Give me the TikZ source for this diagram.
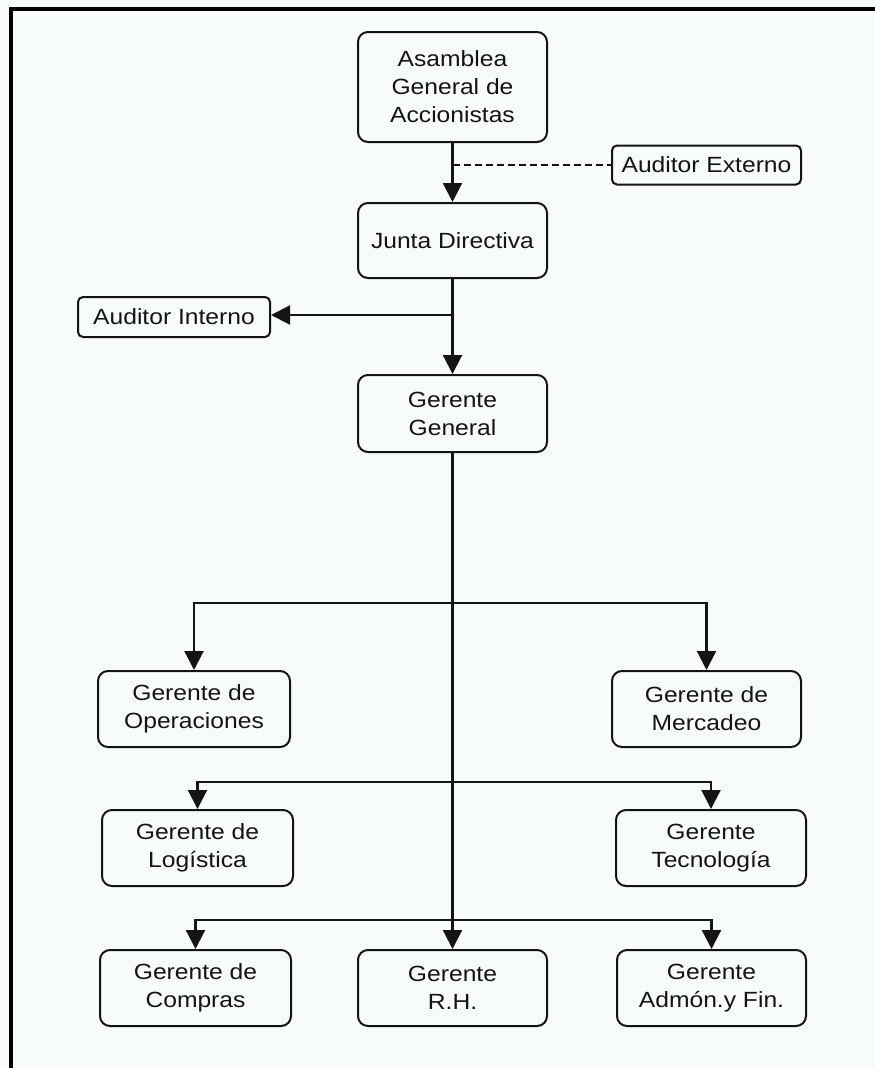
\documentclass[tikz,border=0pt]{standalone}
\usepackage{fontspec}
\setmainfont[FakeStretch=1.12]{Liberation Sans}
\usetikzlibrary{arrows.meta}
\definecolor{bgc}{RGB}{248,252,249}
\definecolor{ink}{RGB}{20,20,20}
\begin{document}
\begin{tikzpicture}[x=1pt,y=-1pt,
  box/.style={draw=ink, line width=2pt, rounded corners=10pt, align=center,
    inner sep=0pt, font=\fontsize{22}{28}\selectfont, text=ink,
    minimum width=189pt, minimum height=76pt},
  smallbox/.style={box, rounded corners=5pt, minimum height=39pt},
  conn/.style={line width=2.2pt, draw=ink},
  arr/.style={conn, -{Triangle[length=19pt,width=19pt]}},
  dashconn/.style={line width=1.8pt, draw=ink, dash pattern=on 7pt off 4pt},
]
\fill[bgc] (0,0) rectangle (875,1068);
\useasboundingbox (0,0) rectangle (875,1068);
% frame
\draw[line width=4pt, black] (11,1068) -- (11,8.5) -- (875,8.5);

% nodes
\node[box, minimum height=110pt] (asm) at (452.5,87) {Asamblea\\General de\\Accionistas};
\node[smallbox] (ext) at (706.5,165) {Auditor Externo};
\node[box, minimum height=75pt] (jd) at (452.5,240.5) {Junta Directiva};
\node[smallbox, minimum width=192pt, minimum height=40pt] (int) at (174,317) {Auditor Interno};
\node[box, minimum height=77pt] (gg) at (452.5,413.5) {Gerente\\General};
\node[box, minimum width=192pt] (ops) at (194,709) {Gerente de\\Operaciones};
\node[box] (mer) at (706.5,709) {Gerente de\\Mercadeo};
\node[box, minimum width=191pt] (log) at (197.5,848) {Gerente de\\Logística};
\node[box, minimum width=190pt] (tec) at (711,848) {Gerente\\Tecnología};
\node[box, minimum width=191pt] (com) at (195.5,988) {Gerente de\\Compras};
\node[box] (rh) at (452.5,988) {Gerente\\R.H.};
\node[box] (adm) at (711.5,988) {Gerente\\Admón.y Fin.};

% connectors
\coordinate (dx) at (asm.south |- ext.west);
\coordinate (ix) at (jd.south |- 0,315);
\coordinate (b1) at (gg.south |- 0,603);
\coordinate (b2) at (gg.south |- 0,782);
\coordinate (b3) at (gg.south |- 0,920);

\draw[arr] (asm.south) -- (jd.north);
\draw[dashconn] (dx) -- (ext.west);
\draw[arr] (jd.south) -- (gg.north);
\draw[arr] (ix) -- (int.east |- ix);
\draw[arr] (gg.south) -- (rh.north);
\draw[arr] (b1) -| (ops.north);
\draw[arr] (b1) -| (mer.north);
\draw[arr] (b2) -| (log.north);
\draw[arr] (b2) -| (tec.north);
\draw[arr] (b3) -| (com.north);
\draw[arr] (b3) -| (adm.north);
\end{tikzpicture}
\end{document}
